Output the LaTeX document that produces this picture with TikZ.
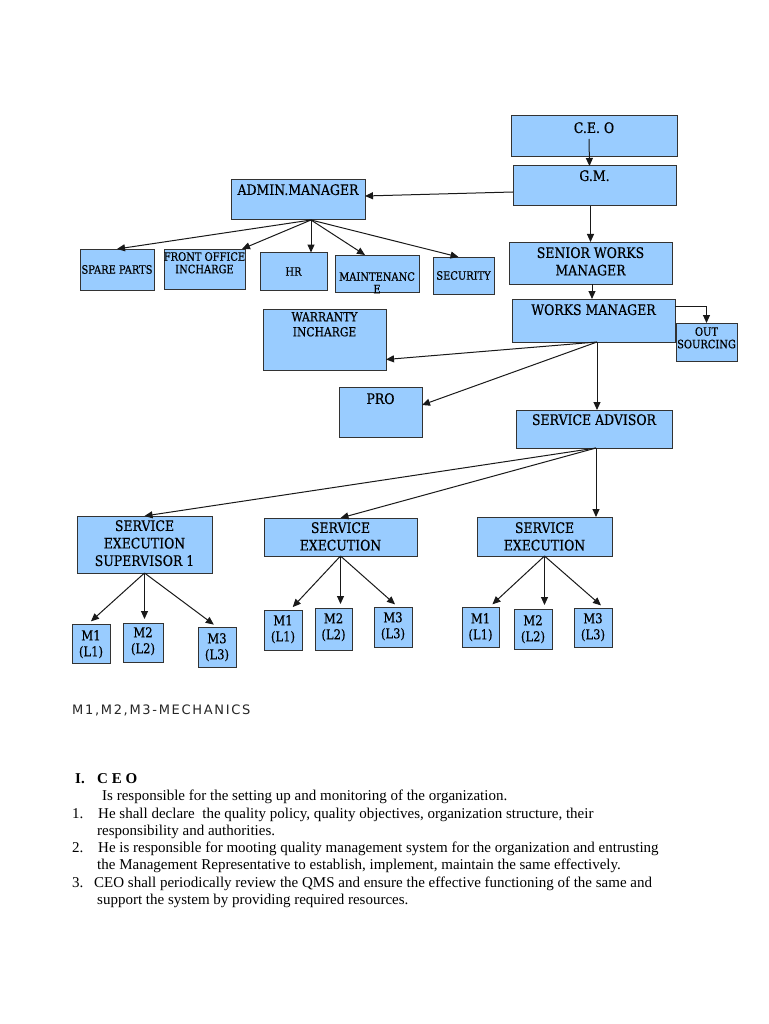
\documentclass[tikz,border=0pt]{standalone}
\usepackage{fontspec}
\usetikzlibrary{arrows.meta,calc}
\newfontfamily\boxfont{DejaVu Serif}[FakeStretch=0.86,FakeBold=0.4]
\newfontfamily\bodyfont{Liberation Serif}
\newfontfamily\capsans{DejaVu Sans}[LetterSpace=13]
\definecolor{boxblue}{HTML}{99CCFF}
\newcommand\boxmain{\boxfont\fontsize{14.5}{17.5}\selectfont}
\newcommand\boxmed{\boxfont\fontsize{12.5}{15}\selectfont}
\newcommand\boxsmall{\boxfont\fontsize{11.5}{12.5}\selectfont}
\newcommand\boxm{\boxfont\fontsize{13.5}{16}\selectfont}
\newcommand\bodyf{\bodyfont\fontsize{15}{17.4}\selectfont}
\begin{document}
\begin{tikzpicture}[x=1pt,y=-1pt,
  box/.style={draw=black!80, line width=1pt, fill=boxblue, inner sep=0pt, outer sep=0pt},
  lbl/.style={anchor=north, inner sep=0pt, align=center, font=\boxmain},
  mlbl/.style={anchor=north, inner sep=0pt, align=center, font=\boxm},
  arr/.style={-{Triangle[length=8pt,width=7pt]}, line width=1pt, draw=black!90},
  gap/.style={shorten >=4pt},
  body/.style={inner sep=0pt, anchor=base west, font=\bodyf}]
\useasboundingbox[fill=white] (0,0) rectangle (768,1024);

% top level
\node[box, minimum width=166pt, minimum height=41pt, label={[lbl,yshift=-6pt]north:C.E. O}] (ceo) at (594,136.5) {};
\node[box, minimum width=163pt, minimum height=40pt, label={[lbl,yshift=-4pt]north:G.M.}] (gm) at (594.5,186) {};
\node[box, minimum width=134pt, minimum height=40pt, label={[lbl,yshift=-4pt]north:ADMIN.MANAGER}] (admin) at (298,200) {};

% admin children
\node[box, minimum width=74pt, minimum height=41pt, font=\boxsmall] (spare) at (117,269.5) {SPARE PARTS};
\node[box, minimum width=81pt, minimum height=40pt, label={[lbl,font=\boxsmall,yshift=-3pt]north:FRONT OFFICE\\INCHARGE}] (front) at (204.5,269) {};
\node[box, minimum width=67pt, minimum height=38pt, font=\boxsmall] (hr) at (293.5,271.5) {HR};
\node[box, minimum width=84pt, minimum height=37pt, label={[lbl,font=\boxsmall,yshift=-17pt]north:MAINTENANC\\E}] (maint) at (377,273.5) {};
\node[box, minimum width=61pt, minimum height=37pt, font=\boxsmall] (security) at (463.5,275.5) {SECURITY};

% works chain
\node[box, minimum width=163pt, minimum height=42pt, label={[lbl,yshift=-5pt]north:SENIOR WORKS\\MANAGER}] (swm) at (590.5,263) {};
\node[box, minimum width=163pt, minimum height=43pt, label={[lbl,yshift=-5pt]north:WORKS MANAGER}] (wm) at (593.5,320.5) {};
\node[box, minimum width=61pt, minimum height=38pt, label={[lbl,font=\boxsmall,yshift=-4pt]north:OUT\\SOURCING}] (out) at (706.5,342) {};
\node[box, minimum width=123pt, minimum height=61pt, label={[lbl,font=\boxmed,yshift=-3pt]north:WARRANTY\\INCHARGE}] (warranty) at (324.5,339.5) {};
\node[box, minimum width=83pt, minimum height=50pt, label={[lbl,yshift=-6pt]north:PRO}] (pro) at (380.5,412) {};
\node[box, minimum width=156pt, minimum height=38pt, label={[lbl,yshift=-4pt]north:SERVICE ADVISOR}] (sa) at (594,429) {};

% service execution
\node[box, minimum width=135pt, minimum height=57pt, label={[lbl,yshift=-4pt]north:SERVICE\\EXECUTION\\SUPERVISOR 1}] (ses1) at (144.5,544.5) {};
\node[box, minimum width=153pt, minimum height=38pt, label={[lbl,yshift=-4pt]north:SERVICE\\EXECUTION}] (se2) at (340.5,537) {};
\node[box, minimum width=135pt, minimum height=39pt, label={[lbl,yshift=-5pt]north:SERVICE\\EXECUTION}] (se3) at (544.5,536.5) {};

% mechanics
\node[box, minimum width=38pt, minimum height=39pt, label={[mlbl,yshift=-6pt]north:M1\\(L1)}] (m11) at (91,643.5) {};
\node[box, minimum width=40pt, minimum height=39pt, label={[mlbl,yshift=-4pt]north:M2\\(L2)}] (m12) at (143,642.5) {};
\node[box, minimum width=38pt, minimum height=40pt, label={[mlbl,yshift=-6pt]north:M3\\(L3)}] (m13) at (217,647) {};
\node[box, minimum width=38pt, minimum height=40pt, label={[mlbl,yshift=-5pt]north:M1\\(L1)}] (m21) at (283,630) {};
\node[box, minimum width=37pt, minimum height=42pt, label={[mlbl,yshift=-5pt]north:M2\\(L2)}] (m22) at (333.5,629) {};
\node[box, minimum width=38pt, minimum height=40pt, label={[mlbl,yshift=-5pt]north:M3\\(L3)}] (m23) at (393,627) {};
\node[box, minimum width=37pt, minimum height=40pt, label={[mlbl,yshift=-6pt]north:M1\\(L1)}] (m31) at (480.5,627) {};
\node[box, minimum width=38pt, minimum height=40pt, label={[mlbl,yshift=-6pt]north:M2\\(L2)}] (m32) at (533,629) {};
\node[box, minimum width=38pt, minimum height=39pt, label={[mlbl,yshift=-5pt]north:M3\\(L3)}] (m33) at (593,627.5) {};

% connectors
\draw[arr] ([xshift=-5pt,yshift=18pt]ceo.south) -- ([xshift=-5pt]gm.north);
\draw[arr] ([yshift=-6pt]gm.west) -- ([yshift=4pt]admin.east);
\draw[arr] (gm.south -| swm.north) -- (swm.north);
\coordinate (afan) at ([xshift=13pt]admin.south);
\draw[arr] (afan) -- (spare.north);
\draw[arr] (afan) -- ([xshift=-3pt]front.north east);
\draw[arr] (afan) -- (afan |- hr.north);
\draw[arr] (afan) -- ([xshift=-12pt]maint.north);
\draw[arr] (afan) -- ([xshift=-5pt]security.north);
\draw[arr] ([xshift=1.5pt]swm.south) -- ([xshift=1.5pt]swm.south |- wm.north);
\draw[arr] ([yshift=14.5pt]wm.east) -| (out.north);
\coordinate (wfan) at ([xshift=3.5pt]wm.south);
\draw[arr] (wfan) -- ([yshift=-20pt]warranty.east);
\draw[arr] (wfan) -- ([yshift=7pt]pro.east);
\draw[arr] (wfan) -- (wfan |- sa.north);
\coordinate (sfan) at ([xshift=2pt]sa.south);
\draw[arr] (sfan) -- (ses1.north);
\draw[arr] (sfan) -- (se2.north);
\draw[arr] (sfan) -- (sfan |- se3.north);
\draw[arr,gap] (ses1.south) -- ([xshift=-3pt]m11.north);
\draw[arr,gap] (ses1.south) -- (ses1.south |- m12.north);
\draw[arr,gap] (ses1.south) -- (m13.north);
\draw[arr,gap] (se2.south) -- ([xshift=7pt]m21.north);
\draw[arr,gap] (se2.south) -- (se2.south |- m22.north);
\draw[arr,gap] (se2.south) -- ([xshift=5pt]m23.north);
\draw[arr,gap] (se3.south) -- ([xshift=9pt]m31.north);
\draw[arr,gap] (se3.south) -- (se3.south |- m32.north);
\draw[arr,gap] (se3.south) -- ([xshift=11pt]m33.north);

% legend
\node[inner sep=0pt, anchor=base west, font=\capsans\fontsize{13}{15}\selectfont, text=black!85] (legend) at (72,714) {M1,M2,M3-MECHANICS};

% text
\node[body] (t0a) at (75,783) {\bfseries I.};
\node[body] (t0b) at (97,783) {\bfseries C E O};
\node[body] (t1) at (102,800.5) {Is responsible for the setting up and monitoring of the organization.};
\node[body] (n1) at (72,818) {1.};
\node[body] (t2) at (98,818) {He shall declare\ \ the quality policy, quality objectives, organization structure, their};
\node[body] (t3) at (97,835) {responsibility and authorities.};
\node[body] (n2) at (72,852.5) {2.};
\node[body] (t4) at (98,852.5) {He is responsible for mooting quality management system for the organization and entrusting};
\node[body] (t5) at (97,869) {the Management Representative to establish, implement, maintain the same effectively.};
\node[body] (n3) at (72,887) {3.};
\node[body] (t6) at (94,887) {CEO shall periodically review the QMS and ensure the effective functioning of the same and};
\node[body] (t7) at (97,904) {support the system by providing required resources.};
\end{tikzpicture}
\end{document}
